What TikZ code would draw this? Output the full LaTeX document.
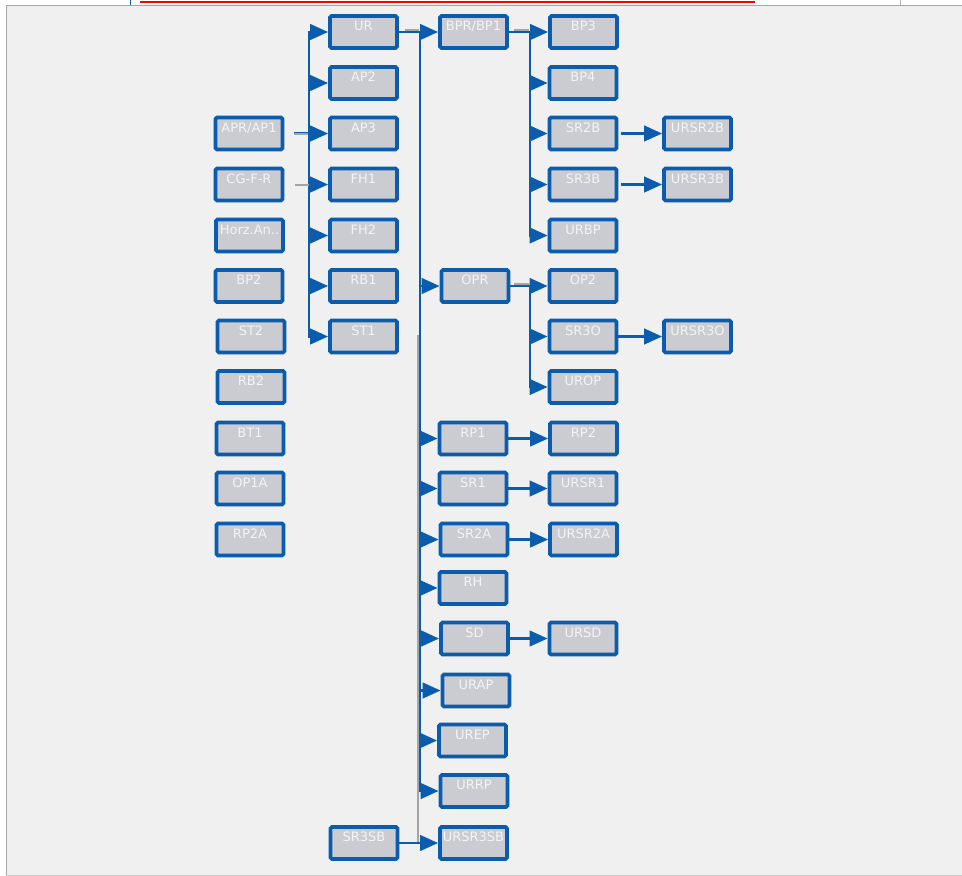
\documentclass[tikz,border=0pt]{standalone}
\usepackage{fontspec}
\setmainfont{DejaVu Sans}
\usetikzlibrary{arrows.meta}
\definecolor{boxblue}{HTML}{0B5CAD}
\definecolor{boxfill}{HTML}{CBCBD2}
\definecolor{boxtext}{HTML}{F4F4F4}
\definecolor{panel}{HTML}{F0F0F0}
\definecolor{ghostgray}{HTML}{A4A4A4}
\tikzset{
  blk/.style={draw=boxblue,fill=boxfill,line width=3.8pt,text=boxtext,
    rounded corners=1.5pt,minimum width=67pt,inner xsep=0pt,inner ysep=0pt,
    text height=14.5pt,text depth=17.5pt,font=\fontsize{13}{15}\selectfont},
  wire/.style={draw=boxblue,line width=2.8pt,-{Triangle[length=18pt 0 0,width=15.5pt 0 0]}},
  ghost/.style={draw=ghostgray,line width=2pt}
}

\begin{document}
\begin{tikzpicture}[x=1pt,y=-1pt]
\useasboundingbox (0,0) rectangle (962,876);
% frame
\fill[white] (0,0) rectangle (962,876);
\fill[panel] (6,5) rectangle (962,875);
\draw[gray!70,line width=1pt] (6,876) -- (6,5) -- (962,5);
\draw[gray!40,line width=1pt] (6,875) -- (962,875);
\draw[red,line width=1.5pt] (140,2) -- (755,2);
\draw[boxblue,line width=0.8pt] (130,0) -- (130,5);
\draw[gray!60,line width=0.8pt] (900,0) -- (900,5);

% left column
\node[blk] (APR) at (249,133.5) {APR/AP1};
\node[blk] (CGFR) at (249,184.5) {CG-F-R};
\node[blk] (HORZ) at (249.5,235.5) {Horz.An..};
\node[blk] (BP2) at (249,286) {BP2};
\node[blk] (ST2) at (251,336.5) {ST2};
\node[blk] (RB2) at (251,387) {RB2};
\node[blk] (BT1) at (250,438.5) {BT1};
\node[blk] (OP1A) at (250,488.5) {OP1A};
\node[blk] (RP2A) at (250,539.5) {RP2A};

% second column
\node[blk] (UR) at (363.5,32) {UR};
\node[blk] (AP2) at (363.5,83) {AP2};
\node[blk] (AP3) at (363.5,133.5) {AP3};
\node[blk] (FH1) at (363.5,184.5) {FH1};
\node[blk] (FH2) at (363.5,235.5) {FH2};
\node[blk] (RB1) at (363.5,286) {RB1};
\node[blk] (ST1) at (363.5,336.5) {ST1};
\node[blk] (SR3SB) at (364,843) {SR3SB};

% third column
\node[blk] (BPR) at (473.5,32) {BPR/BP1};
\node[blk] (OPR) at (475,286) {OPR};
\node[blk] (RP1) at (473,438.5) {RP1};
\node[blk] (SR1) at (473,488.5) {SR1};
\node[blk] (SR2A) at (474,539.5) {SR2A};
\node[blk] (RH) at (473,588) {RH};
\node[blk] (SD) at (474.5,638.5) {SD};
\node[blk] (URAP) at (476,690.5) {URAP};
\node[blk] (UREP) at (472.5,740.5) {UREP};
\node[blk] (URRP) at (474,791) {URRP};
\node[blk] (URSR3SB) at (473.5,843) {URSR3SB};

% fourth column
\node[blk] (BP3) at (583.5,32) {BP3};
\node[blk] (BP4) at (583,83) {BP4};
\node[blk] (SR2B) at (583,133.5) {SR2B};
\node[blk] (SR3B) at (583,184.5) {SR3B};
\node[blk] (URBP) at (583,235.5) {URBP};
\node[blk] (OP2) at (583,286) {OP2};
\node[blk] (SR3O) at (583,336.5) {SR3O};
\node[blk] (UROP) at (583,387) {UROP};
\node[blk] (RP2) at (583.5,438.5) {RP2};
\node[blk] (URSR1) at (583,488.5) {URSR1};
\node[blk] (URSR2A) at (583.5,539.5) {URSR2A};
\node[blk] (URSD) at (583,638.5) {URSD};

% fifth column
\node[blk] (URSR2B) at (697.5,133.5) {URSR2B};
\node[blk] (URSR3B) at (697.5,184.5) {URSR3B};
\node[blk] (URSR3O) at (697.5,336.5) {URSR3O};

% grey connector under the main trunk
\draw[ghost] (SR3SB.east) -- ++(18.5,0) -- ++(0,-508);

% APR/AP1 branches
\draw[wire,shorten <=10pt] (APR.east) -- ++(24.5,0) |- (UR.west);
\draw[wire,shorten <=10pt] (APR.east) -- ++(24.5,0) |- (AP2.west);
\draw[wire,shorten <=10pt] (APR.east) -- ++(24.5,0) |- (AP3.west);
\draw[wire,shorten <=10pt] (APR.east) -- ++(24.5,0) |- (FH1.west);
\draw[wire,shorten <=10pt] (APR.east) -- ++(24.5,0) |- (FH2.west);
\draw[wire,shorten <=10pt] (APR.east) -- ++(24.5,0) |- (RB1.west);
\draw[wire,shorten <=10pt] (APR.east) -- ++(24.5,0) |- (ST1.west);

% UR branches
\draw[wire] (UR.east) -- ++(21,0) |- (BPR.west);
\draw[wire] (UR.east) -- ++(21,0) |- (OPR.west);
\draw[wire] (UR.east) -- ++(21,0) |- (RP1.west);
\draw[wire] (UR.east) -- ++(21,0) |- (SR1.west);
\draw[wire] (UR.east) -- ++(21,0) |- (SR2A.west);
\draw[wire] (UR.east) -- ++(21,0) |- (RH.west);
\draw[wire] (UR.east) -- ++(21,0) |- (SD.west);
\draw[wire] (UR.east) -- ++(21,0) |- (URAP.west);
\draw[wire] (UR.east) -- ++(21,0) |- (UREP.west);
\draw[wire] (UR.east) -- ++(21,0) |- (URRP.west);

% BPR/BP1 and OPR branches
\draw[wire] (BPR.east) -- ++(21,0) |- (BP3.west);
\draw[wire] (BPR.east) -- ++(21,0) |- (BP4.west);
\draw[wire] (BPR.east) -- ++(21,0) |- (SR2B.west);
\draw[wire] (BPR.east) -- ++(21,0) |- (SR3B.west);
\draw[wire] (BPR.east) -- ++(21,0) |- (URBP.west);
\draw[wire] (OPR.east) -- ++(19.5,0) |- (OP2.west);
\draw[wire] (OPR.east) -- ++(19.5,0) |- (SR3O.west);
\draw[wire] (OPR.east) -- ++(19.5,0) |- (UROP.west);

% single links
\draw[wire,shorten <=3pt] (SR2B) -- (URSR2B);
\draw[wire,shorten <=3pt] (SR3B) -- (URSR3B);
\draw[wire] (SR3O) -- (URSR3O);
\draw[wire] (RP1) -- (RP2);
\draw[wire] (SR1) -- (URSR1);
\draw[wire] (SR2A) -- (URSR2A);
\draw[wire] (SD) -- (URSD);
\draw[wire] (SR3SB) -- (URSR3SB);

% grey stubs
\draw[ghost] (APR.east) ++(10,0) -- ++(14,0);
\draw[ghost] (CGFR.east) ++(10.5,0) -- ++(14,0);
\draw[ghost,line width=1.5pt] (UR.east) ++(6.5,-2) -- ++(14,0);
\draw[ghost,line width=1.5pt] (BPR.east) ++(5.5,-2) -- ++(15,0);
\draw[ghost,line width=1.5pt] (OPR.east) ++(3.5,-2) -- ++(15,0);
\end{tikzpicture}
\end{document}
